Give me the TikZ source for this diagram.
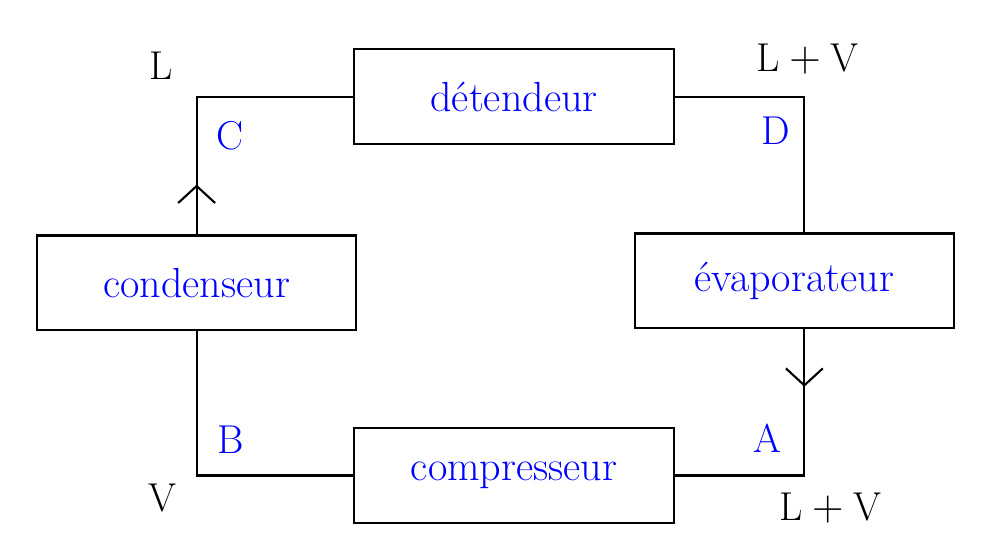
\documentclass[tikz,border=0pt]{standalone}
\usepackage{tikz}
\usetikzlibrary{arrows.meta,decorations.markings}
\tikzset{
    organe/.style={draw,line width=1.2pt,minimum width=6.4cm,minimum height=1.9cm,
                   text=blue,font=\fontsize{24}{28}\selectfont}, % les quatre organes
    etat/.style={font=\fontsize{23}{27}\selectfont},                 % L, V, L + V
    point/.style={text=blue,font=\fontsize{23}{27}\selectfont},      % A, B, C, D
    fleche/.style={decoration={markings,mark=at position #1 with
                   {\arrow{Straight Barb[length=3.4mm,width=7.4mm,line width=1.2pt]}}},
                   postaction={decorate}},
}
\begin{document}
\begin{tikzpicture}[line width=1.2pt]
                    \draw[white,fill=white] (0,0) rectangle (19.78,10.88);
                    \node[organe] (det) at (10.28,8.96) {détendeur};
                    \node[organe] (cond) at (3.92,5.23) {condenseur};
                    \node[organe] (evap) at (15.90,5.27) {évaporateur};
                    \node[organe] (comp) at (10.28,1.37) {compresseur};
                    % circuit du fluide
                    \draw[fleche=1cm] (cond.north) |- (det.west);
                    \draw (det.east) -| ([xshift=2mm]evap.north);
                    \draw[fleche=1.15cm] ([xshift=2mm]evap.south) |- (comp.east);
                    \draw (comp.west) -| (cond.south);
                    % etats et points du cycle
                    \node[etat] (eL) at (3.20,9.58) {L};
                    \node[etat] (eLVh) at (16.16,9.72) {L${}+{}$V};
                    \node[etat] (eV) at (3.24,0.92) {V};
                    \node[etat] (eLVb) at (16.62,0.72) {L${}+{}$V};
                    \node[point] (pC) at (4.58,8.18) {C};
                    \node[point] (pD) at (15.52,8.28) {D};
                    \node[point] (pB) at (4.60,2.08) {B};
                    \node[point] (pA) at (15.36,2.12) {A};
                \end{tikzpicture}
\end{document}
